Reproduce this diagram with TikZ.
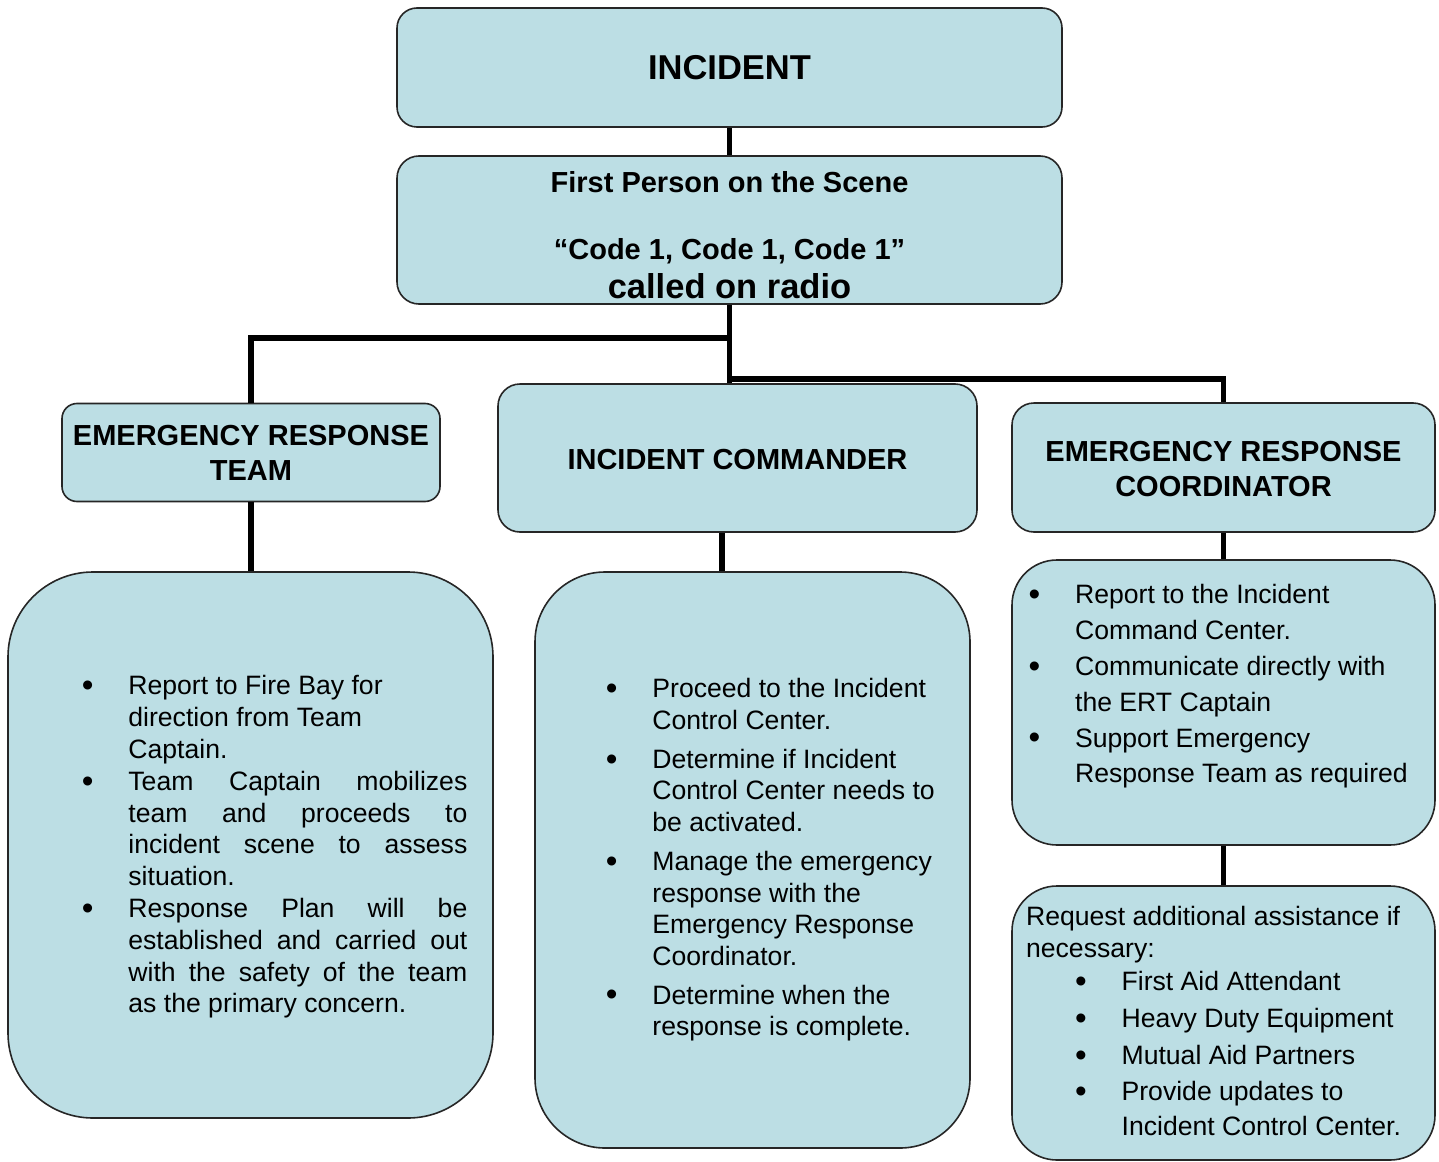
\documentclass[tikz,border=0pt]{standalone}
\usepackage{fontspec}
\setmainfont{Liberation Sans}
\usepackage{graphicx}
\usepackage{tikz}

\definecolor{boxblue}{RGB}{188,222,228}

\newcommand{\bul}{\makebox[46.5pt][l]{\raisebox{-1.8pt}{\scalebox{1.25}{\textbullet}}}}
\newcommand{\ind}{\hspace*{46.5pt}}
\newcommand{\jline}[1]{\makebox[339pt][s]{#1}}

\tikzset{
  box/.style={draw=black!85, line width=1.6pt, fill=boxblue, rounded corners=#1, inner sep=0pt, align=center},
  box/.default=20pt,
  conn/.style={line width=5.5pt},
  head/.style={font=\fontsize{29}{35}\selectfont\bfseries},
  list/.style={font=\fontsize{26.6}{31.8}\selectfont, inner sep=0pt, align=left, anchor=north west}
}

\begin{document}
\begin{tikzpicture}[x=1pt, y=-1pt]
\useasboundingbox (0,0) rectangle (1439,1161);

% top of the chart
\node[box, minimum width=665pt, minimum height=119pt, font=\fontsize{34.5}{40}\selectfont\bfseries] (inc) at (729.5,67.5) {INCIDENT};
\node[box=22pt, minimum width=665pt, minimum height=148pt, font=\fontsize{29}{33}\selectfont\bfseries] (first) at (729.5,230)
  {\rule{0pt}{32pt}First Person on the Scene\\[33.6pt]“Code 1, Code 1, Code 1”\\[6.5pt]{\fontsize{34.5}{40}\selectfont called on radio}};

% the three roles
\node[box=15pt, minimum width=378pt, minimum height=98pt, head] (ert) at (251,452.5) {EMERGENCY RESPONSE\\TEAM};
\node[box=22pt, minimum width=479pt, minimum height=148pt, head] (ic) at (737.5,458) {\rule{0pt}{24pt}INCIDENT COMMANDER};
\node[box=22pt, minimum width=423pt, minimum height=129pt, head] (erc) at (1223.5,467.5) {\rule{0pt}{24pt}EMERGENCY RESPONSE\\COORDINATOR};

% duties
\node[box=85pt, minimum width=485pt, minimum height=546pt] (ertbody) at (250.5,845) {};
\node[box=70pt, minimum width=435pt, minimum height=576pt] (icbody) at (752.5,860) {};
\node[box=45pt, minimum width=423pt, minimum height=285pt] (ercbody) at (1223.5,702.5) {};
\node[box=45pt, minimum width=423pt, minimum height=274pt] (req) at (1223.5,1023) {};

\node[list] (ertlist) at ([shift={(74.5,104.3)}]ertbody.north west) {%
  \bul Report to Fire Bay for\\
  \ind direction from Team\\
  \ind Captain.\\
  \bul\jline{Team Captain mobilizes}\\
  \ind\jline{team and proceeds to}\\
  \ind\jline{incident scene to assess}\\
  \ind situation.\\
  \bul\jline{Response Plan will be}\\
  \ind\jline{established and carried out}\\
  \ind\jline{with the safety of the team}\\
  \ind as the primary concern.};

\node[list, font=\fontsize{26.6}{31.7}\selectfont] (iclist) at ([shift={(71.5,107.2)}]icbody.north west) {%
  \bul Proceed to the Incident\\
  \ind Control Center.\\[7pt]
  \bul Determine if Incident\\
  \ind Control Center needs to\\
  \ind be activated.\\[7pt]
  \bul Manage the emergency\\
  \ind response with the\\
  \ind Emergency Response\\
  \ind Coordinator.\\[7pt]
  \bul Determine when the\\
  \ind response is complete.};

\node[list, font=\fontsize{26.6}{35.9}\selectfont] (erclist) at ([shift={(17.2,24.8)}]ercbody.north west) {%
  \bul Report to the Incident\\
  \ind Command Center.\\
  \bul Communicate directly with\\
  \ind the ERT Captain\\
  \bul Support Emergency\\
  \ind Response Team as required};

\node[list, font=\fontsize{26.6}{36.7}\selectfont] (reqlist) at ([shift={(14.7,21.2)}]req.north west) {%
  Request additional assistance if\\[-5pt]
  necessary:\\[-3.4pt]
  \hspace*{49pt}\bul First Aid Attendant\\
  \hspace*{49pt}\bul Heavy Duty Equipment\\
  \hspace*{49pt}\bul Mutual Aid Partners\\
  \hspace*{49pt}\bul Provide updates to\\[-1.7pt]
  \hspace*{95.5pt}Incident Control Center.};

% connectors
\coordinate (jl) at (729.5,338);
\coordinate (jr) at (729.5,379);
\coordinate (icx) at (722,0);
\draw[conn] (inc) -- (first);
\draw[conn] (first.south) -- (first.south |- ic.north);
\draw[conn] (jl) -| (ert.north);
\draw[conn] (jr) -| (erc.north);
\draw[conn] (ert.south) -- (ert.south |- ertbody.north);
\draw[conn] (ic.south -| icx) -- (icbody.north -| icx);
\draw[conn] (erc.south) -- (erc.south |- ercbody.north);
\draw[conn] (ercbody) -- (req);
\end{tikzpicture}
\end{document}
